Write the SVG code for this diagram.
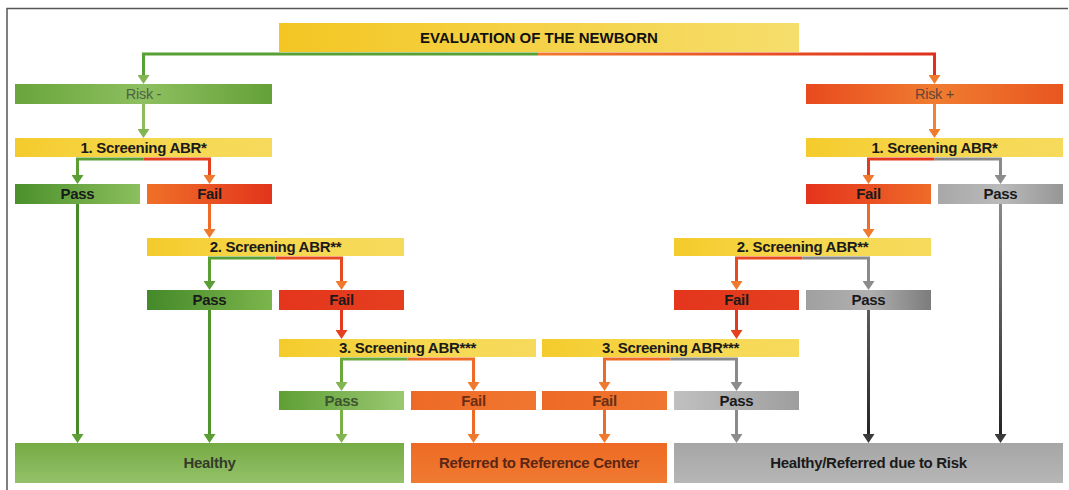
<svg xmlns="http://www.w3.org/2000/svg" width="1069" height="490" viewBox="0 0 1069 490">
<defs>
<linearGradient id="gTitle" x1="0" x2="1" y1="0" y2="0"><stop offset="0" stop-color="#f3c623"/><stop offset="1" stop-color="#f6de6c"/></linearGradient>
<linearGradient id="gScr" x1="0" x2="1" y1="0" y2="0"><stop offset="0" stop-color="#f4cb2c"/><stop offset="0.5" stop-color="#f6d84e"/><stop offset="1" stop-color="#f6da5c"/></linearGradient>
<linearGradient id="gRiskM" x1="0" x2="1" y1="0" y2="0"><stop offset="0" stop-color="#68a53b"/><stop offset="0.5" stop-color="#8ebf60"/><stop offset="1" stop-color="#64a138"/></linearGradient>
<linearGradient id="gRiskP" x1="0" x2="1" y1="0" y2="0"><stop offset="0" stop-color="#e84a1e"/><stop offset="0.5" stop-color="#f07c30"/><stop offset="1" stop-color="#e8561f"/></linearGradient>
<linearGradient id="gPass1" x1="0" x2="1" y1="0" y2="0"><stop offset="0" stop-color="#4a902a"/><stop offset="1" stop-color="#8cbf5e"/></linearGradient>
<linearGradient id="gPass2" x1="0" x2="1" y1="0" y2="0"><stop offset="0" stop-color="#44892a"/><stop offset="1" stop-color="#7cb54c"/></linearGradient>
<linearGradient id="gPass3" x1="0" x2="1" y1="0" y2="0"><stop offset="0" stop-color="#5f9f35"/><stop offset="1" stop-color="#9ac872"/></linearGradient>
<linearGradient id="gFailOR" x1="0" x2="1" y1="0" y2="0"><stop offset="0" stop-color="#f07028"/><stop offset="1" stop-color="#e2341c"/></linearGradient>
<linearGradient id="gFailRO" x1="0" x2="1" y1="0" y2="0"><stop offset="0" stop-color="#e4341c"/><stop offset="1" stop-color="#ef6a28"/></linearGradient>
<linearGradient id="gRed" x1="0" x2="1" y1="0" y2="0"><stop offset="0" stop-color="#e4361d"/><stop offset="1" stop-color="#e43e1f"/></linearGradient>
<linearGradient id="gOrange" x1="0" x2="1" y1="0" y2="0"><stop offset="0" stop-color="#ed6a26"/><stop offset="1" stop-color="#f07630"/></linearGradient>
<linearGradient id="gGray1" x1="0" x2="1" y1="0" y2="0"><stop offset="0" stop-color="#a8a8a8"/><stop offset="0.5" stop-color="#bababa"/><stop offset="1" stop-color="#969696"/></linearGradient>
<linearGradient id="gGray2" x1="0" x2="1" y1="0" y2="0"><stop offset="0" stop-color="#a0a0a0"/><stop offset="0.5" stop-color="#b0b0b0"/><stop offset="1" stop-color="#7c7c7c"/></linearGradient>
<linearGradient id="gGray3" x1="0" x2="1" y1="0" y2="0"><stop offset="0" stop-color="#c0c0c0"/><stop offset="1" stop-color="#9e9e9e"/></linearGradient>
<linearGradient id="gHealthy" x1="0" x2="0" y1="0" y2="1"><stop offset="0" stop-color="#76ab44"/><stop offset="1" stop-color="#94c16a"/></linearGradient>
<linearGradient id="gRef" x1="0" x2="0" y1="0" y2="1"><stop offset="0" stop-color="#ee6a24"/><stop offset="1" stop-color="#f07a32"/></linearGradient>
<linearGradient id="gHR" x1="0" x2="0" y1="0" y2="1"><stop offset="0" stop-color="#a6a6a6"/><stop offset="1" stop-color="#b6b6b6"/></linearGradient>
<linearGradient id="gTopRed" gradientUnits="userSpaceOnUse" x1="538" y1="0" x2="934" y2="0"><stop offset="0" stop-color="#ef7a2c"/><stop offset="1" stop-color="#e0301c"/></linearGradient>
<linearGradient id="gDark" gradientUnits="userSpaceOnUse" x1="0" y1="204" x2="0" y2="440"><stop offset="0" stop-color="#8a8a8a"/><stop offset="1" stop-color="#222"/></linearGradient>
<marker id="aG" markerUnits="userSpaceOnUse" markerWidth="10" markerHeight="12" refX="0.5" refY="6" orient="auto"><path d="M0,0 L9,6 L0,12 z" fill="#5a9e34"/></marker>
<marker id="aLG" markerUnits="userSpaceOnUse" markerWidth="10" markerHeight="12" refX="0.5" refY="6" orient="auto"><path d="M0,0 L9,6 L0,12 z" fill="#82b452"/></marker>
<marker id="aO" markerUnits="userSpaceOnUse" markerWidth="10" markerHeight="12" refX="0.5" refY="6" orient="auto"><path d="M0,0 L9,6 L0,12 z" fill="#ef7a2e"/></marker>
<marker id="aR" markerUnits="userSpaceOnUse" markerWidth="10" markerHeight="12" refX="0.5" refY="6" orient="auto"><path d="M0,0 L9,6 L0,12 z" fill="#e4401e"/></marker>
<marker id="aGr" markerUnits="userSpaceOnUse" markerWidth="10" markerHeight="12" refX="0.5" refY="6" orient="auto"><path d="M0,0 L9,6 L0,12 z" fill="#8c8c8c"/></marker>
<marker id="aD" markerUnits="userSpaceOnUse" markerWidth="10" markerHeight="12" refX="0.5" refY="6" orient="auto"><path d="M0,0 L9,6 L0,12 z" fill="#3a3a3a"/></marker>
</defs>
<style>
text{font-family:"Liberation Sans",Arial,sans-serif;font-size:15px;font-weight:bold;text-anchor:middle;fill:#1a1a1a;letter-spacing:-0.3px}
.title{font-size:15px;letter-spacing:0;fill:#111}
.out{font-size:15px}
.risk{font-weight:normal;font-size:14.5px}
.c{fill:none;stroke-width:3;stroke-linejoin:miter}
.frame{fill:none;stroke:#555;stroke-width:1.5}
</style>
<rect width="1069" height="490" fill="#ffffff"/>
<path class="frame" d="M7,490 V8.5 H1068"/>

<g id="connectors">
<path class="c" stroke="#58a033" d="M538,54 H143.5 V75.5" marker-end="url(#aLG)"/>
<path class="c" stroke="url(#gTopRed)" d="M538,54 H934.5 V75.5" marker-end="url(#aO)"/>
<path class="c" stroke="#8cbc5c" d="M143.5,104 V129.5" marker-end="url(#aLG)"/>
<path class="c" stroke="#f08434" d="M934.5,104 V129.5" marker-end="url(#aO)"/>

<path class="c" stroke="#5b9e34" d="M143.5,159 H77.5 V175.5" marker-end="url(#aG)"/>
<path class="c" stroke="#e2401e" d="M143.5,159 H209.5 V175.5" marker-end="url(#aO)"/>
<path class="c" stroke="#468a28" d="M77.5,204 V434.5" marker-end="url(#aG)"/>
<path class="c" stroke="#ee6a26" d="M209.5,204 V229.5" marker-end="url(#aO)"/>
<path class="c" stroke="#5b9e34" d="M275.5,258 H209.5 V281.5" marker-end="url(#aG)"/>
<path class="c" stroke="#e84a1f" d="M275.5,258 H341.5 V281.5" marker-end="url(#aO)"/>
<path class="c" stroke="#4f942c" d="M209.5,310 V434.5" marker-end="url(#aG)"/>
<path class="c" stroke="#e23a1e" d="M341.5,310 V330.5" marker-end="url(#aR)"/>
<path class="c" stroke="#6aa83c" d="M407.5,359 H341.5 V382.5" marker-end="url(#aLG)"/>
<path class="c" stroke="#ee6a26" d="M407.5,359 H473.5 V382.5" marker-end="url(#aO)"/>
<path class="c" stroke="#7ab04a" d="M341.5,410 V434.5" marker-end="url(#aLG)"/>
<path class="c" stroke="#ee6a26" d="M473.5,410 V434.5" marker-end="url(#aO)"/>

<path class="c" stroke="#e23a1e" d="M934.5,159 H868.5 V175.5" marker-end="url(#aO)"/>
<path class="c" stroke="#8a8a8a" d="M934.5,159 H1000.5 V175.5" marker-end="url(#aGr)"/>
<path class="c" stroke="url(#gDark)" d="M1000.5,204 V434.5" marker-end="url(#aD)"/>
<path class="c" stroke="#ee6a26" d="M868.5,204 V229.5" marker-end="url(#aO)"/>
<path class="c" stroke="#e84a1f" d="M802.5,258 H736.5 V281.5" marker-end="url(#aO)"/>
<path class="c" stroke="#8a8a8a" d="M802.5,258 H868.5 V281.5" marker-end="url(#aGr)"/>
<path class="c" stroke="url(#gDark)" d="M868.5,310 V434.5" marker-end="url(#aD)"/>
<path class="c" stroke="#e23a1e" d="M736.5,310 V330.5" marker-end="url(#aR)"/>
<path class="c" stroke="#ee6a26" d="M670.5,359 H604.5 V382.5" marker-end="url(#aO)"/>
<path class="c" stroke="#8a8a8a" d="M670.5,359 H736.5 V382.5" marker-end="url(#aGr)"/>
<path class="c" stroke="#ee6a26" d="M604.5,410 V434.5" marker-end="url(#aO)"/>
<path class="c" stroke="#8a8a8a" d="M736.5,410 V434.5" marker-end="url(#aGr)"/>
</g>

<g id="title"><rect x="279" y="23" width="520" height="29" fill="url(#gTitle)"/><text class="title" x="539" y="43">EVALUATION OF THE NEWBORN</text></g>

<g id="riskMinus"><rect x="15" y="84" width="257" height="20" fill="url(#gRiskM)"/><text class="risk" x="143.5" y="99" style="fill:#4f6245">Risk -</text></g>
<g id="riskPlus"><rect x="806" y="84" width="257" height="20" fill="url(#gRiskP)"/><text class="risk" x="934.5" y="99" style="fill:#654536">Risk +</text></g>

<g id="scr1L"><rect x="15" y="138" width="257" height="19" fill="url(#gScr)"/><text x="143.5" y="152.5">1. Screening ABR*</text></g>
<g id="scr1R"><rect x="806" y="138" width="257" height="19" fill="url(#gScr)"/><text x="934.5" y="152.5">1. Screening ABR*</text></g>

<g id="pass1L"><rect x="15" y="184" width="125" height="20" fill="url(#gPass1)"/><text x="77.5" y="199">Pass</text></g>
<g id="fail1L"><rect x="147" y="184" width="125" height="20" fill="url(#gFailOR)"/><text x="209.5" y="199">Fail</text></g>
<g id="fail1R"><rect x="806" y="184" width="125" height="20" fill="url(#gFailRO)"/><text x="868.5" y="199">Fail</text></g>
<g id="pass1R"><rect x="938" y="184" width="125" height="20" fill="url(#gGray1)"/><text x="1000.5" y="199">Pass</text></g>

<g id="scr2L"><rect x="147" y="238" width="257" height="18" fill="url(#gScr)"/><text x="275.5" y="252">2. Screening ABR**</text></g>
<g id="scr2R"><rect x="674" y="238" width="257" height="18" fill="url(#gScr)"/><text x="802.5" y="252">2. Screening ABR**</text></g>

<g id="pass2L"><rect x="147" y="290" width="125" height="20" fill="url(#gPass2)"/><text x="209.5" y="305">Pass</text></g>
<g id="fail2L"><rect x="279" y="290" width="125" height="20" fill="url(#gRed)"/><text x="341.5" y="305">Fail</text></g>
<g id="fail2R"><rect x="674" y="290" width="125" height="20" fill="url(#gRed)"/><text x="736.5" y="305">Fail</text></g>
<g id="pass2R"><rect x="806" y="290" width="125" height="20" fill="url(#gGray2)"/><text x="868.5" y="305">Pass</text></g>

<g id="scr3L"><rect x="279" y="339" width="257" height="18" fill="url(#gScr)"/><text x="407.5" y="353">3. Screening ABR***</text></g>
<g id="scr3R"><rect x="542" y="339" width="257" height="18" fill="url(#gScr)"/><text x="670.5" y="353">3. Screening ABR***</text></g>

<g id="pass3L"><rect x="279" y="391" width="125" height="19" fill="url(#gPass3)"/><text x="341.5" y="405.5" style="fill:#3d5530">Pass</text></g>
<g id="fail3L"><rect x="411" y="391" width="125" height="19" fill="url(#gOrange)"/><text x="473.5" y="405.5" style="fill:#6a2e14">Fail</text></g>
<g id="fail3R"><rect x="542" y="391" width="125" height="19" fill="url(#gOrange)"/><text x="604.5" y="405.5" style="fill:#6a2e14">Fail</text></g>
<g id="pass3R"><rect x="674" y="391" width="125" height="19" fill="url(#gGray3)"/><text x="736.5" y="405.5">Pass</text></g>

<g id="healthy"><rect x="15" y="443" width="389" height="40" fill="url(#gHealthy)"/><text class="out" x="209.5" y="468" style="fill:#333c2c">Healthy</text></g>
<g id="referred"><rect x="411" y="443" width="256" height="40" fill="url(#gRef)"/><text class="out" x="539" y="468" style="fill:#5a2714">Referred to Reference Center</text></g>
<g id="healthyRisk"><rect x="674" y="443" width="389" height="40" fill="url(#gHR)"/><text class="out" x="868.5" y="468">Healthy/Referred due to Risk</text></g>
</svg>
